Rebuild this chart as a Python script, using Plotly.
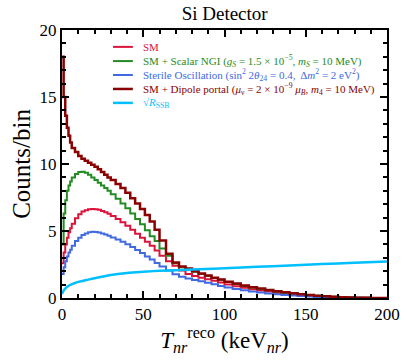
import plotly.graph_objects as go

# Bin edges in keV_nr (finer at low recoil energy)
bin_edges = [0, 1, 2, 3, 4, 5, 6, 8, 10, 12, 14, 16, 18, 20, 22, 24, 26, 28, 30,
             33, 36, 39, 42, 45, 48, 51, 54, 57, 60, 64, 68, 72, 76, 80, 84, 88, 92, 96, 100,
             105, 110, 115, 120, 125, 130, 135, 140, 145, 150, 155, 160, 165, 170, 175,
             180, 185, 190, 195, 200]

sm_counts = [2.6, 3.4, 4.0, 4.5, 4.9, 5.2, 5.55, 5.95, 6.25, 6.45, 6.55, 6.62, 6.65, 6.62,
             6.58, 6.5, 6.4, 6.28, 6.12, 5.9, 5.65, 5.4, 5.1, 4.8, 4.5, 4.2, 3.9, 3.55,
             3.15, 2.75, 2.4, 2.05, 1.8, 1.65, 1.52, 1.4, 1.28, 1.15, 1.0, 0.88, 0.76, 0.65,
             0.56, 0.48, 0.4, 0.33, 0.27, 0.22, 0.17, 0.13, 0.1, 0.07, 0.05, 0.03, 0.02,
             0.01, 0.005, 0.002]

ngi_counts = [4.0, 6.3, 7.3, 8.0, 8.4, 8.7, 9.0, 9.25, 9.4, 9.43, 9.35, 9.2, 9.0, 8.8,
              8.6, 8.4, 8.2, 8.0, 7.75, 7.4, 7.05, 6.7, 6.3, 5.9, 5.5, 5.05, 4.6, 4.25,
              3.7, 3.15, 2.6, 2.3, 2.15, 1.95, 1.8, 1.65, 1.5, 1.36, 1.2, 1.05, 0.9, 0.78,
              0.68, 0.58, 0.48, 0.4, 0.33, 0.27, 0.21, 0.16, 0.12, 0.09, 0.06, 0.04, 0.025,
              0.015, 0.008, 0.003]

sterile_counts = [1.8, 2.3, 2.75, 3.1, 3.4, 3.6, 3.9, 4.25, 4.5, 4.7, 4.82, 4.9, 4.95, 4.93,
                  4.88, 4.82, 4.74, 4.65, 4.52, 4.37, 4.2, 4.02, 3.8, 3.58, 3.35, 3.1, 2.88,
                  2.62, 2.35, 2.05, 1.78, 1.58, 1.45, 1.35, 1.25, 1.13, 1.02, 0.9, 0.78,
                  0.67, 0.57, 0.48, 0.41, 0.34, 0.28, 0.23, 0.18, 0.14, 0.11, 0.08, 0.06,
                  0.04, 0.03, 0.02, 0.01, 0.005, 0.002, 0.001]

dipole_counts = [18.0, 15.0, 13.6, 12.7, 12.1, 11.6, 11.2, 10.9, 10.6, 10.4, 10.25, 10.1,
                 9.95, 9.8, 9.6, 9.4, 9.2, 9.0, 8.8, 8.5, 8.2, 7.85, 7.45, 7.05, 6.65, 6.2,
                 5.7, 5.1, 4.3, 3.3, 2.65, 2.35, 2.2, 2.0, 1.82, 1.68, 1.52, 1.38, 1.22,
                 1.08, 0.93, 0.8, 0.7, 0.6, 0.5, 0.42, 0.35, 0.28, 0.22, 0.17, 0.13, 0.09,
                 0.06, 0.04, 0.025, 0.015, 0.008, 0.003]

# sqrt(R_SSB), smooth curve
ssb_energy = [0, 1, 2, 3, 5, 8, 10, 15, 20, 30, 40, 50, 60, 70, 80, 100, 120, 140, 160, 180, 200]
ssb_sqrt = [0.3, 0.55, 0.7, 0.82, 0.97, 1.12, 1.2, 1.34, 1.48, 1.72, 1.87, 1.96, 2.03, 2.08,
            2.13, 2.22, 2.33, 2.43, 2.53, 2.63, 2.72]

FONT = "Liberation Serif"

series = [
    ("SM", sm_counts, "#DC143C", 2),
    ("SM + Scalar NGI (<i>g<sub>S</sub></i> = 1.5 × 10<sup>−5</sup>, <i>m<sub>S</sub></i> = 10 MeV)",
     ngi_counts, "#228B22", 2),
    ("Sterile Oscillation (sin<sup>2</sup> 2<i>θ</i><sub>24</sub> = 0.4,  Δ<i>m</i><sup>2</sup> = 2 eV<sup>2</sup>)",
     sterile_counts, "#4169E1", 2),
    ("SM + Dipole portal (<i>μ</i><sub>ν</sub> = 2 × 10<sup>−9</sup> <i>μ<sub>B</sub></i>, <i>m</i><sub>4</sub> = 10 MeV)",
     dipole_counts, "#8B0000", 2.5),
]
ssb_name = "√<i>R</i><sub>SSB</sub>"
ssb_color = "#00BFFF"

fig = go.Figure()
for name, vals, color, width in series:
    fig.add_trace(go.Scatter(x=bin_edges, y=vals + [vals[-1]], mode="lines",
                             line=dict(color=color, width=width, shape="hv"),
                             name=name, showlegend=False))

fig.add_trace(go.Scatter(x=ssb_energy, y=ssb_sqrt, mode="lines",
                         line=dict(color=ssb_color, width=2.5, shape="spline"),
                         name=ssb_name, showlegend=False))

# legend drawn by hand so rows can sit closer together than plotly allows
legend_rows = [0.937, 0.884, 0.832, 0.780, 0.728]
entries = [(n, c, w) for n, _, c, w in series] + [(ssb_name, ssb_color, 2.5)]
for (name, color, width), ry in zip(entries, legend_rows):
    fig.add_shape(type="line", xref="paper", yref="paper", x0=0.157, x1=0.218, y0=ry, y1=ry,
                  line=dict(color=color, width=width))
    fig.add_annotation(xref="paper", yref="paper", x=0.243, y=ry, xanchor="left",
                       yanchor="middle", text=name, showarrow=False,
                       font=dict(family=FONT, size=11, color=color))

axis_style = dict(showline=True, linecolor="black", linewidth=2, mirror="ticks",
                  ticks="inside", ticklen=7, tickwidth=1.5, tickcolor="black",
                  showgrid=False, zeroline=False, automargin=False,
                  tickfont=dict(family=FONT, size=17, color="black"))

fig.update_xaxes(range=[0, 200], dtick=50,
                 minor=dict(ticks="inside", dtick=10, ticklen=4, tickcolor="black"),
                 title=dict(text="<i>T</i><sub><i>nr</i></sub><sup>reco</sup> (keV<sub><i>nr</i></sub>)",
                            font=dict(family=FONT, size=23, color="black"), standoff=2),
                 **axis_style)
fig.update_yaxes(range=[0, 20], dtick=5,
                 minor=dict(ticks="inside", dtick=1, ticklen=4, tickcolor="black"),
                 title=dict(text="Counts/bin", font=dict(family=FONT, size=25, color="black"),
                            standoff=2),
                 **axis_style)

fig.update_layout(
    width=407, height=364,
    margin=dict(l=62, r=20, t=30, b=66),
    plot_bgcolor="white", paper_bgcolor="white",
    title=dict(text="Si Detector", x=0.552, xanchor="center", y=0.962, yanchor="middle",
               font=dict(family=FONT, size=19, color="black")),
)

# drop the page's default body margin so the figure fills the window exactly
fig.write_html("out.html", config={"displayModeBar": False},
               post_script="document.body.style.margin = '0px';")
